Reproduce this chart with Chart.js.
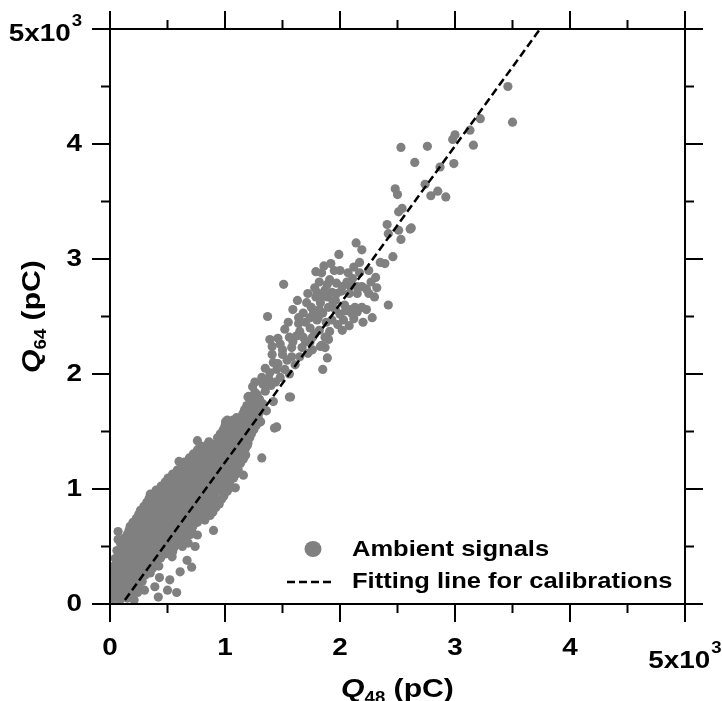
<!DOCTYPE html>
<html>
<head>
<meta charset="utf-8">
<script src="https://cdn.jsdelivr.net/npm/chart.js@4.4.0/dist/chart.umd.min.js"></script>
<style>
  html, body { margin: 0; padding: 0; background: #fff; }
  #wrap { width: 722px; height: 701px; position: relative; }
</style>
</head>
<body>
<div id="wrap"><canvas id="scatter"></canvas></div>
<script>
// ===== data (pC) =====
// ambient signals, [Q48, Q64]
const ambientSignals = [
  // dense cloud near the origin
  [20,40],[85,30],[150,50],[210,35],
  [50,75],[115,80],[180,70],
  [5,115],[70,100],[140,120],[205,105],
  [35,145],[105,150],[170,140],[240,150],
  [30,185],[100,170],[165,190],[235,175],[280,195],
  [0,215],[65,220],[130,210],[200,225],[260,215],
  [0,255],[65,245],[135,260],[200,240],[265,255],[305,250],
  [30,290],[100,280],[170,295],[235,280],[300,290],[345,285],
  [25,325],[95,310],[160,330],[230,315],[300,325],[370,310],[425,330],
  [60,360],[130,350],[200,365],[265,350],[335,360],[400,350],
  [45,395],[110,385],[180,400],[250,380],[320,395],[390,385],[440,400],
  [75,430],[145,420],[215,435],[285,420],[355,430],[425,420],[480,435],
  [60,465],[130,450],[200,470],[270,455],[340,465],[410,450],[480,470],[545,455],
  [95,500],[165,490],[235,505],[305,490],[375,500],[445,490],[515,505],[560,495],
  [90,535],[160,520],[230,540],[300,525],[370,535],[440,520],[510,540],[570,525],
  [120,570],[190,560],[260,575],[330,560],[400,570],[470,560],[540,575],[610,560],[660,570],
  [150,605],[220,590],[290,610],[360,595],[430,605],[500,590],[570,610],[640,595],[700,605],
  [165,640],[235,630],[305,645],[375,630],[445,640],[515,630],[585,645],[655,630],[710,640],
  [175,675],[245,660],[315,680],[385,665],[455,675],[525,660],[595,680],[665,665],[720,675],
  [200,710],[270,700],[340,715],[410,700],[480,710],[550,700],[620,715],[690,700],[760,710],
  [230,745],[300,730],[370,750],[440,735],[510,745],[580,730],[650,750],[720,735],[790,745],[825,730],
  [250,780],[320,770],[390,785],[460,770],[530,780],[600,770],[670,785],[740,770],[810,780],[870,770],
  [265,815],[335,800],[405,820],[475,805],[545,815],[615,800],[685,820],[755,805],[825,815],[895,800],
  [295,850],[365,840],[435,855],[505,840],[575,850],[645,840],[715,855],[785,840],[855,850],[920,840],
  [320,885],[390,870],[460,890],[530,875],[600,885],[670,870],[740,890],[810,875],[880,885],[950,870],
  [340,920],[410,910],[480,925],[550,910],[620,920],[690,910],[760,925],[830,910],[900,920],[970,910],
  [350,955],[420,940],[490,960],[560,945],[630,955],[700,940],[770,960],[840,945],[910,955],[990,940],
  [400,990],[470,980],[540,995],[610,980],[680,990],[750,980],[820,995],[890,980],[960,990],[1020,980],
  [445,1025],[515,1010],[585,1030],[655,1015],[725,1025],[795,1010],[865,1030],[935,1015],[1000,1025],[1045,1010],
  [480,1060],[550,1050],[620,1065],[690,1050],[760,1060],[830,1050],[900,1065],[970,1050],[1040,1060],
  [505,1095],[575,1080],[645,1100],[715,1085],[785,1095],[855,1080],[925,1100],[995,1085],[1075,1095],
  [545,1130],[615,1120],[685,1135],[755,1120],[825,1130],[895,1120],[965,1135],[1035,1120],[1095,1130],
  [585,1165],[655,1150],[725,1170],[795,1155],[865,1165],[935,1150],[1005,1170],[1075,1155],[1115,1165],
  [620,1200],[690,1190],[760,1205],[830,1190],[900,1200],[970,1190],[1040,1205],[1110,1190],
  [645,1235],[715,1220],[785,1240],[855,1225],[925,1235],[995,1220],[1065,1240],[1135,1225],
  [690,1270],[760,1260],[830,1275],[900,1260],[970,1270],[1040,1260],[1110,1275],[1160,1260],
  [725,1305],[795,1290],[865,1310],[935,1295],[1005,1305],[1075,1290],[1145,1310],[1180,1295],
  [760,1340],[830,1330],[900,1345],[970,1330],[1040,1340],[1110,1330],[1175,1345],
  [785,1375],[855,1360],[925,1380],[995,1365],[1065,1375],[1135,1360],[1195,1380],
  [860,1410],[930,1400],[1000,1415],[1070,1400],[1140,1410],[1200,1400],
  [935,1445],[1005,1430],[1075,1450],[1145,1435],[1215,1445],
  [960,1480],[1030,1470],[1100,1485],[1170,1470],[1230,1480],
  [985,1515],[1055,1500],[1125,1520],[1195,1505],[1250,1515],
  [1000,1550],[1070,1540],[1140,1555],[1210,1540],[1270,1550],
  [1005,1585],[1075,1570],[1145,1590],[1215,1575],[1310,1585],
  [1100,1620],[1170,1610],[1240,1625],[1290,1615],
  [1155,1655],[1225,1640],[1295,1660],
  [1170,1690],[1240,1680],[1290,1695],
  [1190,1725],[1260,1710],[1300,1730],
  [1230,1765],[1300,1760],
  [1205,1805],[1280,1790],
  // edges of the cloud
  [70,630],[70,560],[110,490],[10,210],[20,120],[40,60],[170,80],[300,120],[390,150],
  [430,230],[500,120],[580,100],[520,210],[350,270],[540,410],[610,280],[670,380],
  [710,320],[630,500],[680,530],[740,500],[760,600],[900,640],[420,60],[240,100],
  [540,1060],[460,990],[410,930],[500,920],[410,840],[480,770],
  [760,1420],[600,1240],[710,1240],[840,1380],[930,1400],[1000,1430],[810,1340],[900,1340],[1000,1360],
  [1020,1600],[1070,1600],[1170,1600],[1240,1600],[1300,1580],[1040,1540],[1100,1540],[1220,1510],
  [1060,1470],[1150,1470],[1200,1450],[1450,1540],[1430,1530],[1320,1270],[1160,1120],[1090,1010],
  [1570,1800],[1330,1910],
  // middle part
  [1160,1620],[1230,1660],[1220,1730],[1260,1710],[1200,1800],[1280,1820],[1560,1800],
  [1330,1740],[1280,1650],[1360,1680],[1420,1760],[1300,1780],[1350,1850],[1400,1900],
  [1240,1890],[1260,1840],[1260,1930],[1330,1920],[1320,1970],[1480,1970],[1380,1960],[1440,1930],
  [1390,2010],[1450,2040],[1520,2040],[1850,2040],[1420,2100],[1540,2120],[1610,2080],
  [1350,2050],[1460,2090],[1560,2000],[1580,2150],[1650,2150],[1720,2180],
  [1410,2170],[1500,2170],[1890,2140],[1870,2230],[1410,2240],[1500,2210],[1580,2230],
  [1670,2230],[1760,2210],[1830,2240],[1390,2300],[1590,2280],[1740,2280],[1840,2250],[1900,2300],
  [1700,2280],[1620,2330],[1780,2350],[1560,2320],[1460,2310],[1480,2260],
  [1680,2320],[1760,2320],[1870,2320],[1520,2390],[1650,2370],[1740,2400],[1820,2380],
  [1910,2370],[2020,2380],[1370,2500],[1800,2470],[1930,2470],[2030,2470],[2120,2480],
  [1640,2440],[1550,2450],[1700,2450],[1880,2450],[1980,2430],[2080,2420],[2200,2450],
  [1960,2640],[2090,2560],
  // upper cluster
  [1640,2490],[1740,2490],[1810,2490],[2280,2490],[1590,2560],[1680,2530],[1770,2540],
  [1850,2530],[2000,2520],[2100,2530],[1630,2640],[1710,2620],[1830,2620],[1940,2630],
  [1750,2580],[1820,2560],[1900,2580],[1960,2560],[2050,2550],[2150,2540],[2230,2560],
  [2040,2600],[2130,2580],[2190,2580],[2420,2600],[1790,2670],[1890,2670],[1970,2700],
  [1720,2700],[1800,2710],[1850,2680],[1930,2710],[2010,2720],[2080,2700],[2150,2700],[2250,2700],
  [2300,2670],[1780,2750],[1870,2730],[2150,2760],[2190,2760],[2230,2740],[2320,2750],
  [1820,2800],[1890,2780],[2020,2760],[2090,2760],[2270,2800],[2310,2840],
  [1510,2780],[1910,2820],[1970,2790],[2060,2800],[2110,2830],[1790,2890],[1840,2880],
  [2000,2900],[2070,2880],[2170,2880],[2170,2970],[2350,2970],[2390,2960],[1920,2960],
  [1860,2940],[1950,2900],[2120,2930],[2250,2900],
  [2140,3140],[2190,3080],[1990,3040],[2460,3020],[2420,3220],[2530,3170],[2610,3260],
  // sparse top
  [2410,3300],[2510,3250],[2620,3270],[2540,3440],[2510,3410],[2740,3650],[2480,3610],
  [2500,3560],[2790,3550],[2850,3590],[2920,3540],[2650,3840],[2870,3800],[2990,3830],
  [2530,3970],[2760,3980],[3000,4080],[2980,4040],[3130,4120],[3160,3990],[3220,4220],
  [3460,4500],[3500,4190]
];

// fitting line for calibrations (two end points)
const fitQ48 = [130, 3740];
const fitQ64 = [35, 5000];

const majorTicks = [0, 1000, 2000, 3000, 4000, 5000];
const minorTicks = [500, 1500, 2500, 3500, 4500];
const tickLabels = ['0', '1', '2', '3', '4', '5x10'];
const tickExp = '3';

const gray = '#808080';
const FONT = '"Liberation Sans", Arial, sans-serif';
const sx = 1.16; // wide glyphs like the original

// draw text stretched horizontally, returns its width
function wideText(ctx, str, x, y, align) {
  const w = ctx.measureText(str).width * sx;
  const x0 = align === 'center' ? x - w / 2 : align === 'right' ? x - w : x;
  ctx.save();
  ctx.translate(x0, y);
  ctx.scale(sx, 1);
  ctx.fillText(str, 0, 0);
  ctx.restore();
  return w;
}
function textW(ctx, str, font) {
  ctx.font = font;
  return ctx.measureText(str).width * sx;
}

// "5x10^3" style label, x is left edge, y is the middle of the base text
function powLabel(ctx, x, y) {
  ctx.textBaseline = 'middle';
  ctx.font = 'bold 24px ' + FONT;
  const w = wideText(ctx, tickLabels[5], x, y, 'left');
  ctx.textBaseline = 'alphabetic';
  ctx.font = 'bold 16px ' + FONT;
  wideText(ctx, tickExp, x + w + 1, y - 8, 'left');
}
function powWidth(ctx) {
  return textW(ctx, tickLabels[5], 'bold 24px ' + FONT) + 1 + textW(ctx, tickExp, 'bold 16px ' + FONT);
}

// Q with subscript + unit, centred at (cx, baseline)
function axisTitle(ctx, sub, cx, base) {
  const fQ = 'italic bold 26px ' + FONT, fS = 'bold 16px ' + FONT, fU = 'bold 26px ' + FONT;
  const unit = ' (pC)';
  const total = textW(ctx, 'Q', fQ) + textW(ctx, sub, fS) + textW(ctx, unit, fU);
  let x = cx - total / 2;
  ctx.textBaseline = 'alphabetic';
  ctx.font = fQ; x += wideText(ctx, 'Q', x, base, 'left');
  ctx.font = fS; x += wideText(ctx, sub, x, base + 6, 'left');
  ctx.font = fU; wideText(ctx, unit, x, base, 'left');
}

// ===== axes frame, ticks, labels, legend =====
const framePlugin = {
  id: 'frame',
  afterDraw(chart) {
    const { ctx, chartArea: a, scales: { x, y } } = chart;
    ctx.save();
    ctx.strokeStyle = '#000';
    ctx.fillStyle = '#000';
    ctx.lineWidth = 2;
    ctx.strokeRect(a.left, a.top, a.right - a.left, a.bottom - a.top);

    const line = (x1, y1, x2, y2) => {
      ctx.beginPath(); ctx.moveTo(x1, y1); ctx.lineTo(x2, y2); ctx.stroke();
    };
    const ticks = (vals, len) => {
      vals.forEach(v => {
        const px = x.getPixelForValue(v), py = y.getPixelForValue(v);
        line(px, a.bottom, px, a.bottom + len);
        line(px, a.top, px, a.top - len);
        line(a.left, py, a.left - len, py);
        line(a.right, py, a.right + len, py);
      });
    };
    ticks(majorTicks, 18);
    ticks(minorTicks, 9);

    // tick labels
    majorTicks.forEach((v, i) => {
      const px = x.getPixelForValue(v), py = y.getPixelForValue(v);
      if (i < majorTicks.length - 1) {
        ctx.font = 'bold 24px ' + FONT;
        ctx.textBaseline = 'middle';
        wideText(ctx, tickLabels[i], px, a.bottom + 44, 'center');
        wideText(ctx, tickLabels[i], a.left - 28, py, 'right');
      } else {
        const w = powWidth(ctx);
        powLabel(ctx, px - w / 2, a.bottom + 57);
        powLabel(ctx, a.left - 28 - w, py + 5);
      }
    });

    // axis titles
    axisTitle(ctx, '48', (a.left + a.right) / 2, 697);
    ctx.save();
    ctx.translate(40, (a.top + a.bottom) / 2);
    ctx.rotate(-Math.PI / 2);
    axisTitle(ctx, '64', 0, 0);
    ctx.restore();

    // legend
    const ds = chart.data.datasets;
    ctx.fillStyle = gray;
    ctx.beginPath();
    ctx.ellipse(313, 549, 8.5, 8, 0, 0, Math.PI * 2);
    ctx.fill();
    ctx.strokeStyle = '#000';
    ctx.lineWidth = 2.5;
    ctx.setLineDash([8, 4]);
    line(287, 582, 331, 582);
    ctx.setLineDash([]);
    ctx.fillStyle = '#000';
    ctx.font = 'bold 22px ' + FONT;
    ctx.textBaseline = 'alphabetic';
    wideText(ctx, ds[0].label, 352, 556, 'left');
    wideText(ctx, ds[1].label, 352, 588, 'left');
    ctx.restore();
  }
};

new Chart(document.getElementById('scatter'), {
  type: 'scatter',
  data: {
    datasets: [
      {
        label: 'Ambient signals',
        data: ambientSignals.map(p => ({ x: p[0], y: p[1] })),
        backgroundColor: gray,
        borderWidth: 0,
        pointRadius: 4.6,
        pointHoverRadius: 4.6,
        clip: 0,
        order: 2
      },
      {
        label: 'Fitting line for calibrations',
        data: fitQ48.map((v, i) => ({ x: v, y: fitQ64[i] })),
        showLine: true,
        borderColor: '#000',
        borderWidth: 2.5,
        borderDash: [8, 4],
        pointRadius: 0,
        fill: false,
        clip: 0,
        order: 1
      }
    ]
  },
  options: {
    responsive: true,
    maintainAspectRatio: false,
    animation: false,
    layout: { padding: { left: 110, right: 37, top: 29, bottom: 97 } },
    plugins: {
      legend: { display: false },
      tooltip: { enabled: false }
    },
    scales: {
      x: { type: 'linear', min: 0, max: 5000, display: false },
      y: { type: 'linear', min: 0, max: 5000, display: false }
    }
  },
  plugins: [framePlugin]
});
</script>
</body>
</html>
